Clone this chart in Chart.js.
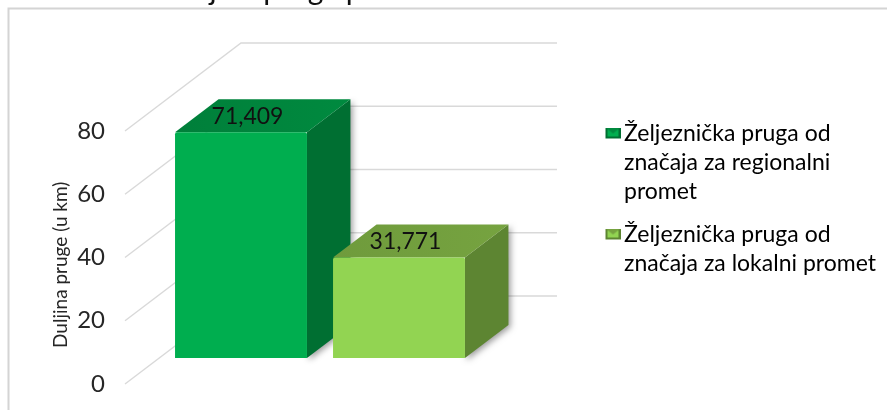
<!DOCTYPE html>
<html>
<head>
<meta charset="utf-8">
<style>html,body{margin:0;padding:0;background:#fff;overflow:hidden}canvas{display:block}</style>
<script src="https://cdn.jsdelivr.net/npm/chart.js@4/dist/chart.umd.min.js"></script>
</head>
<body>
<canvas id="c" width="887" height="410"></canvas>
<script>
const categories = [""];
const regionalValues = [71.409];
const localValues = [31.771];
const yTicks = [0, 20, 40, 60, 80];
const regionalLines = ["Željeznička pruga od", "značaja za regionalni", "promet"];
const localLines = ["Željeznička pruga od", "značaja za lokalni promet"];
const axisTitle = "Duljina pruge (u km)";
const chartHeading = "Grafikon 1 Duljina pruga prema vrsti";

const FONT = "Lato, Carlito, sans-serif";
const INK = "#262626";
const GRID = "#d9d9d9";
const palette = [
  { front: "#00ae4f", side: "#006f32", top: "#007f3a", topLight: "#008a3f" },
  { front: "#92d452", side: "#5d8532", top: "#6f9b3c", topLight: "#76a340" }
];
// perspective offsets, in pixels
const WALL = { dx: 116, dy: -88, right: 557 };
const SHIFT = { dx: 37, dy: -26 };
const DEPTH = { dx: 43.5, dy: -33 };

function legendSwatch(p) {
  const cv = document.createElement("canvas");
  cv.width = 17; cv.height = 13;
  const g = cv.getContext("2d");
  const x0 = 2, y0 = 0, w = 15, h = 11;
  g.fillStyle = p.side; g.fillRect(x0, y0, w, h);
  g.fillStyle = p.front; g.fillRect(x0 + 2, y0 + 2, w - 4, h - 4);
  g.fillStyle = p.topLight;
  g.beginPath(); g.moveTo(x0, y0); g.lineTo(x0 + w, y0); g.lineTo(x0 + w / 2, y0 + 6); g.closePath(); g.fill();
  return cv;
}

const bar3d = {
  id: "bar3d",
  beforeDraw(chart) {
    const c = chart.ctx;
    c.save();
    c.fillStyle = "#fff";
    c.fillRect(0, 0, chart.width, chart.height);
    c.strokeStyle = "#d4d4d4";
    c.lineWidth = 2;
    c.beginPath();
    c.moveTo(8.5, chart.height);
    c.lineTo(8.5, 8.5);
    c.lineTo(chart.width, 8.5);
    c.stroke();
    c.fillStyle = "#111";
    c.font = "30px " + FONT;
    c.textBaseline = "alphabetic";
    c.textAlign = "left";
    c.fillText(chartHeading, 18, 0);
    c.restore();
  },
  beforeDatasetsDraw(chart) {
    const c = chart.ctx, y = chart.scales.y, a = chart.chartArea;
    c.save();
    c.strokeStyle = GRID;
    c.lineWidth = 1.4;
    yTicks.forEach(v => {
      const p = y.getPixelForValue(v);
      c.beginPath();
      c.moveTo(a.left, p);
      c.lineTo(a.left + WALL.dx, p + WALL.dy);
      c.lineTo(WALL.right, p + WALL.dy);
      c.stroke();
    });
    c.restore();
    c.save();
    c.translate(SHIFT.dx, SHIFT.dy);
    chart.data.datasets.forEach((ds, i) => {
      const el = chart.getDatasetMeta(i).data[0];
      const l = el.x - el.width / 2, r = el.x + el.width / 2, t = el.y, b = el.base;
      const p = palette[i];
      c.save();
      c.shadowColor = "rgba(0,0,0,0.4)";
      c.shadowBlur = 6;
      c.shadowOffsetX = 2;
      c.shadowOffsetY = 2;
      c.fillStyle = p.side;
      c.beginPath();
      c.moveTo(r, t); c.lineTo(r + DEPTH.dx, t + DEPTH.dy);
      c.lineTo(r + DEPTH.dx, b + DEPTH.dy); c.lineTo(r, b);
      c.closePath(); c.fill();
      c.restore();
      const g = c.createLinearGradient(l, 0, r + DEPTH.dx, 0);
      g.addColorStop(0, p.top); g.addColorStop(1, p.topLight);
      c.fillStyle = g;
      c.beginPath();
      c.moveTo(l, t); c.lineTo(l + DEPTH.dx, t + DEPTH.dy);
      c.lineTo(r + DEPTH.dx, t + DEPTH.dy); c.lineTo(r, t);
      c.closePath(); c.fill();
    });
  },
  afterDatasetsDraw(chart) {
    const c = chart.ctx;
    c.fillStyle = "#111";
    c.font = "23px " + FONT;
    c.textAlign = "center";
    c.textBaseline = "middle";
    chart.data.datasets.forEach((ds, i) => {
      const el = chart.getDatasetMeta(i).data[0];
      const txt = ds.data[0].toFixed(3).replace(".", ",");
      c.fillText(txt, el.x + 6.5, el.y - 15.5);
    });
    c.restore();
  },
  afterLayout(chart) {
    const lg = chart.legend;
    const w = lg.width, h = lg.height;
    lg.left = 597.5; lg.right = 597.5 + w;
    lg.top = 108.5; lg.bottom = 108.5 + h;
  }
};

new Chart(document.getElementById("c"), {
  type: "bar",
  plugins: [bar3d],
  data: {
    labels: categories,
    datasets: [
      { label: regionalLines.join(" "), data: regionalValues, backgroundColor: palette[0].front, borderRadius: 2,
        pointStyle: legendSwatch(palette[0]), legendLines: regionalLines },
      { label: localLines.join(" "), data: localValues, backgroundColor: palette[1].front, borderRadius: 2,
        pointStyle: legendSwatch(palette[1]), legendLines: localLines }
    ]
  },
  options: {
    responsive: false,
    animation: false,
    layout: { padding: { left: 0, right: 446, top: 131, bottom: 26 } },
    datasets: { bar: { categoryPercentage: 1, barPercentage: 0.835 } },
    scales: {
      x: { display: false },
      y: {
        min: 0, max: 80,
        afterFit(s) { s.width = 125; s.paddingTop = 0; s.paddingBottom = 0; },
        afterBuildTicks(s) { s.ticks = yTicks.map(v => ({ value: v })); },
        grid: { display: false },
        border: { display: false },
        ticks: { padding: 12, color: INK, font: { family: FONT, size: 24 } },
        title: {
          display: true, text: axisTitle + "   ", color: INK,
          font: { family: FONT, size: 19 },
          padding: { top: 49, bottom: 0 }
        }
      }
    },
    plugins: {
      title: { display: false },
      tooltip: { enabled: false },
      legend: {
        position: "chartArea",
        align: "start",
        onClick: null,
        labels: {
          color: INK,
          font: { family: FONT, size: 23, lineHeight: 29 / 23 },
          padding: 14,
          usePointStyle: true,
          pointStyleWidth: 1,
          generateLabels(chart) {
            return chart.data.datasets.map((ds, i) => ({
              text: ds.legendLines,
              pointStyle: ds.pointStyle,
              fillStyle: ds.backgroundColor,
              strokeStyle: ds.backgroundColor,
              lineWidth: 0,
              datasetIndex: i
            }));
          }
        }
      }
    }
  }
});
</script>
</body>
</html>
